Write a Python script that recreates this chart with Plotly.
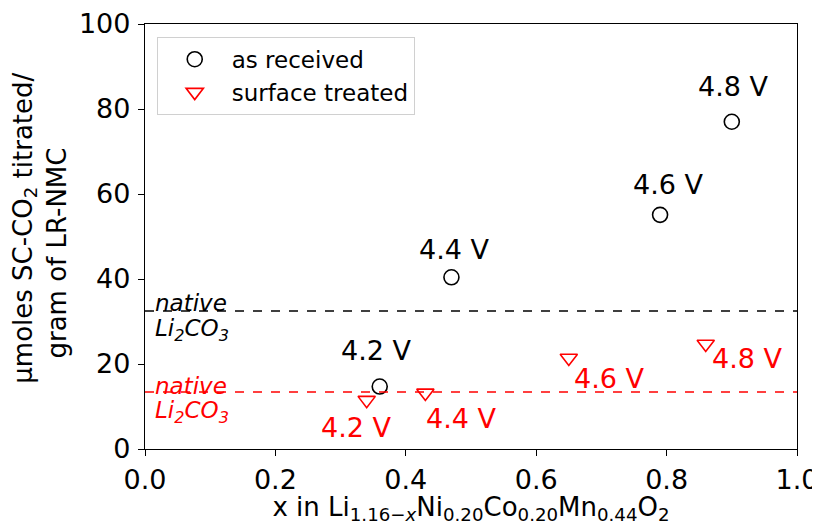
import plotly.graph_objects as go

# Data
x_received = [0.36, 0.47, 0.79, 0.90]
y_received = [14.7, 40.4, 55.1, 77.0]
v_labels = ["4.2 V", "4.4 V", "4.6 V", "4.8 V"]

x_treated = [0.34, 0.43, 0.65, 0.86]
y_treated = [11.5, 13.2, 21.4, 24.7]

native_received = 32.5
native_treated = 13.4

xticks = [0.0, 0.2, 0.4, 0.6, 0.8, 1.0]
yticks = [0, 20, 40, 60, 80, 100]

FONT = "DejaVu Sans"
RED = "#ff0000"

fig = go.Figure()
fig.add_trace(go.Scatter(
    x=x_received, y=y_received, mode="markers", name="as received",
    marker=dict(symbol="circle-open", size=15, color="black", line=dict(width=1.6)),
))
fig.add_trace(go.Scatter(
    x=x_treated, y=y_treated, mode="markers", name="surface treated",
    marker=dict(symbol="triangle-down-open", size=15, color=RED, line=dict(width=1.6)),
))

fig.add_hline(y=native_received, line=dict(color="black", dash="dash", width=1.5))
fig.add_hline(y=native_treated, line=dict(color=RED, dash="dash", width=1.5))

# native labels
for yv, col, up, down in [(native_received, "black", 8, -19), (native_treated, RED, 6, -20)]:
    fig.add_annotation(x=0.012, y=yv, xanchor="left", yanchor="middle", yshift=up,
                       text="<i>native</i>", showarrow=False,
                       font=dict(family=FONT, size=23, color=col))
    fig.add_annotation(x=0.012, y=yv, xanchor="left", yanchor="middle", yshift=down,
                       text="<i>Li<sub>2</sub>CO<sub>3</sub></i>", showarrow=False,
                       font=dict(family=FONT, size=23, color=col))

# voltage labels, as received (above points)
recv_offsets = [(-3, 36), (3, 28), (8, 30), (2, 35)]
for xv, yv, t, (dx, dy) in zip(x_received, y_received, v_labels, recv_offsets):
    fig.add_annotation(x=xv, y=yv, text=t, showarrow=False, xshift=dx, yshift=dy,
                       font=dict(family=FONT, size=27, color="black"))

# voltage labels, surface treated
treat_offsets = [(-10, -27), (36, -26), (41, -20), (42, -14)]
for xv, yv, t, (dx, dy) in zip(x_treated, y_treated, v_labels, treat_offsets):
    fig.add_annotation(x=xv, y=yv, text=t, showarrow=False, xshift=dx, yshift=dy,
                       font=dict(family=FONT, size=27, color=RED))

axis_common = dict(
    showgrid=False, zeroline=False, showline=True, linecolor="black", linewidth=1.3,
    mirror=True, ticks="outside", ticklen=6, tickwidth=1.3, tickcolor="black",
    tickfont=dict(family=FONT, size=27, color="black"), automargin=False,
)

NB = "\u00a0"
ZW = "\u200b"
ytitle = (ZW + NB * 2 + "\u03bcmoles SC-CO<sub>2</sub> titrated/<br>"
          + "gram of LR-NMC" + NB * 4 + ZW)

fig.update_layout(
    width=812, height=517,
    paper_bgcolor="white", plot_bgcolor="white",
    margin=dict(l=137, r=23, t=16, b=76),
    font=dict(family=FONT, color="black"),
    xaxis=dict(range=[0, 1.0], tickvals=xticks, tickformat=".1f",
               title=dict(text="x in Li<sub>1.16\u2212<i>x</i></sub>Ni<sub>0.20</sub>Co<sub>0.20</sub>Mn<sub>0.44</sub>O<sub>2</sub>",
                          font=dict(family=FONT, size=26), standoff=5),
               **axis_common),
    yaxis=dict(range=[0, 100], tickvals=yticks, ticklabelstandoff=2,
               title=dict(text=ytitle, font=dict(family=FONT, size=26), standoff=14),
               **axis_common),
    legend=dict(x=0.018, y=0.97, xanchor="left", yanchor="top",
                bgcolor="white", bordercolor="#d0d0d0", borderwidth=1,
                font=dict(family=FONT, size=23, color="black"),
                itemwidth=64, tracegroupgap=2),
    showlegend=True,
)

fig.write_html("out.html")
